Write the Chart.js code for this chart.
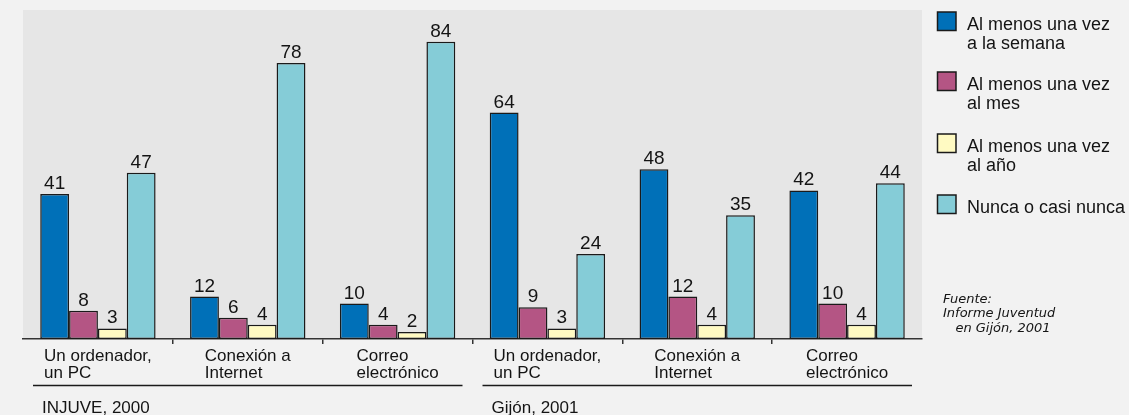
<!DOCTYPE html>
<html>
<head>
<meta charset="utf-8">
<script src="https://cdn.jsdelivr.net/npm/chart.js@4"></script>
<style>
  html, body { margin: 0; padding: 0; background: #f2f2f2; }
  #wrap { width: 1129px; height: 415px; }
</style>
</head>
<body>
<div id="wrap"><canvas id="c" width="1129" height="415"></canvas></div>
<script>
// ---- data ----
const categories = [
  ["Un ordenador,", "un PC"],
  ["Conexión a", "Internet"],
  ["Correo", "electrónico"],
  ["Un ordenador,", "un PC"],
  ["Conexión a", "Internet"],
  ["Correo", "electrónico"]
];
const groups = ["INJUVE, 2000", "Gijón, 2001"];
const groupSize = 3;
const seriesNames = [
  ["Al menos una vez", "a la semana"],
  ["Al menos una vez", "al mes"],
  ["Al menos una vez", "al año"],
  ["Nunca o casi nunca"]
];
const semana = [41, 12, 10, 64, 48, 42];
const mes    = [8, 6, 4, 9, 12, 10];
const anio   = [3, 4, 2, 3, 4, 4];
const nunca  = [47, 78, 84, 24, 35, 44];
const sourceNote = ["Fuente:", "Informe Juventud", "   en Gijón, 2001"];

// ---- styles ----
const colors = ["#0070B8", "#B45584", "#FFFAC2", "#85CCD7"];
const FONT = '"Liberation Sans", Arial, sans-serif';
const TXT = "#141414";

const seriesValues = [semana, mes, anio, nunca];
const datasets = seriesValues.map((vals, i) => ({
  label: seriesNames[i].join(" "),
  data: vals,
  backgroundColor: colors[i],
  borderColor: "#1a1a1a",
  borderWidth: 1.5,
  borderSkipped: false,
  categoryPercentage: 0.77,
  barPercentage: 1.0
}));

const decor = {
  id: "decor",
  beforeDraw(chart) {
    const c = chart.ctx, a = chart.chartArea;
    c.save();
    c.fillStyle = "#f2f2f2";
    c.fillRect(0, 0, chart.width, chart.height);
    c.fillStyle = "#e6e6e6";
    c.fillRect(a.left, a.top, a.right - a.left, a.bottom - a.top);
    c.restore();
  },
  afterDraw(chart) {
    const c = chart.ctx;
    const xs = chart.scales.x;
    c.save();
    // value labels
    c.fillStyle = TXT;
    c.font = "19px " + FONT;
    c.textAlign = "center";
    c.textBaseline = "alphabetic";
    chart.data.datasets.forEach((ds, di) => {
      const meta = chart.getDatasetMeta(di);
      meta.data.forEach((el, i) => {
        c.fillText(String(ds.data[i]), el.x, el.y - 5);
      });
    });
    // category labels (block centered, lines left aligned)
    c.font = "17px " + FONT;
    c.textAlign = "left";
    categories.forEach((lines, i) => {
      const cx = xs.getPixelForValue(i);
      const w = Math.max(...lines.map(l => c.measureText(l).width));
      const x0 = cx - w / 2;
      lines.forEach((l, k) => c.fillText(l, x0, 360.5 + k * 17));
    });
    // group lines and labels
    const step = xs.getPixelForValue(1) - xs.getPixelForValue(0);
    groups.forEach((g, gi) => {
      const start = xs.getPixelForValue(gi * groupSize) - step / 2;
      const end = xs.getPixelForValue(gi * groupSize + groupSize - 1) + step / 2;
      c.strokeStyle = "#1a1a1a";
      c.lineWidth = 1.5;
      c.beginPath();
      c.moveTo(start + 10, 385.5);
      c.lineTo(end - 10, 385.5);
      c.stroke();
      c.fillStyle = TXT;
      c.font = "17px " + FONT;
      c.fillText(g, start + 19, 412.5);
    });
    // legend
    const tops = [12, 72, 134, 195];
    seriesNames.forEach((lines, i) => {
      c.fillStyle = colors[i];
      c.fillRect(937.5, tops[i], 18.5, 18.5);
      c.strokeStyle = "#1a1a1a";
      c.lineWidth = 1.5;
      c.strokeRect(937.5, tops[i], 18.5, 18.5);
      c.fillStyle = TXT;
      c.font = "18px " + FONT;
      lines.forEach((l, k) => c.fillText(l, 967, tops[i] + 18.3 + k * 18.3));
    });
    // source note
    c.font = 'italic 13px "DejaVu Sans", sans-serif';
    c.fillStyle = TXT;
    sourceNote.forEach((l, k) => c.fillText(l, 943, 302.5 + k * 14.5));
    c.restore();
  }
};

new Chart(document.getElementById("c"), {
  type: "bar",
  data: { labels: categories.map(l => l.join(" ")), datasets },
  options: {
    responsive: false,
    animation: false,
    devicePixelRatio: 1,
    layout: { padding: { left: 23, right: 207, top: 10, bottom: 76 } },
    plugins: { legend: { display: false }, tooltip: { enabled: false } },
    scales: {
      x: {
        afterFit: s => { s.height = 0; },
        ticks: { display: false },
        grid: {
          drawOnChartArea: false,
          drawTicks: true,
          tickLength: 5,
          lineWidth: 1.5,
          color: ctx => (ctx.type !== "tick" || ctx.index === 0) ? "rgba(0,0,0,0)" : "#333333"
        },
        border: { display: true, color: "#333333", width: 1.5 }
      },
      y: { display: false, min: 0, max: 93 }
    }
  },
  plugins: [decor]
});
</script>
</body>
</html>
